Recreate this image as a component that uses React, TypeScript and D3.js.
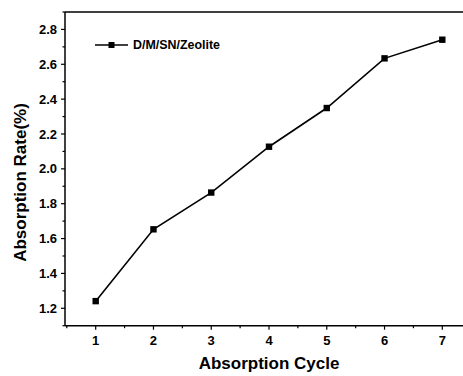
import React from "react";
import * as d3 from "d3";

const cycles = [1, 2, 3, 4, 5, 6, 7];
const rates = [1.241, 1.653, 1.864, 2.127, 2.349, 2.634, 2.741];
const yTicks = [1.2, 1.4, 1.6, 1.8, 2.0, 2.2, 2.4, 2.6, 2.8];
const seriesName = "D/M/SN/Zeolite";

const W = 463, H = 376;
const left = 65, top = 12, bottom = 325.7;

export default function App() {
  const x = d3.scaleLinear().domain([1, 7]).range([95.7, 442.3]);
  const y = d3.scaleLinear().domain([1.1, 2.9]).range([bottom, top]);
  const right = x(7.5);
  const line = d3.line<number>().x((_, i) => x(cycles[i])).y((d) => y(d));
  const xMinor = d3.range(0.5, 7.51, 0.5);
  const yMinor = d3.range(1.1, 2.91, 0.1);
  const font = "'Liberation Sans', Arial, sans-serif";
  return (
    <svg width={W} height={H} style={{ position: "absolute", left: 0, top: 0 }} fontFamily={font}>
      <rect width={W} height={H} fill="#fff" />
      {/* frame */}
      <line x1={left} x2={right} y1={top} y2={top} stroke="#000" strokeWidth={1.5} />
      <line x1={left} x2={left} y1={top} y2={bottom} stroke="#000" strokeWidth={1.5} />
      <line x1={left} x2={right} y1={bottom} y2={bottom} stroke="#000" strokeWidth={1.5} />
      {/* x ticks */}
      {xMinor.map((v) => (
        <line key={"xm" + v} x1={x(v)} x2={x(v)} y1={bottom} y2={bottom + (Number.isInteger(v) ? 4 : 2.5)} stroke="#000" strokeWidth={1.2} />
      ))}
      {cycles.map((c) => (
        <text key={"xl" + c} x={x(c)} y={bottom + 19} textAnchor="middle" fontSize={13} fontWeight="bold">{c}</text>
      ))}
      {/* y ticks */}
      {yMinor.map((v) => {
        const major = Math.abs(Math.round(v * 5) - v * 5) < 1e-6;
        return <line key={"ym" + v} x1={left} x2={left - (major ? 4 : 2.5)} y1={y(v)} y2={y(v)} stroke="#000" strokeWidth={1.2} />;
      })}
      {yTicks.map((v) => (
        <text key={"yl" + v} x={left - 8} y={y(v)} dy="0.35em" textAnchor="end" fontSize={13} fontWeight="bold">{v.toFixed(1)}</text>
      ))}
      {/* titles */}
      <text x={269} y={369} textAnchor="middle" fontSize={17} fontWeight="bold">Absorption Cycle</text>
      <text transform={`translate(26,${182.5}) rotate(-90)`} textAnchor="middle" fontSize={17} fontWeight="bold">Absorption Rate(%)</text>
      {/* series */}
      <path d={line(rates) || ""} fill="none" stroke="#000" strokeWidth={1.6} />
      {rates.map((r, i) => (
        <rect key={"p" + i} x={x(cycles[i]) - 3.2} y={y(r) - 3.2} width={6.4} height={6.4} fill="#000" />
      ))}
      {/* legend */}
      <line x1={95} x2={128} y1={45} y2={45} stroke="#000" strokeWidth={1.6} />
      <rect x={108.5} y={42} width={6} height={6} fill="#000" />
      <text x={133} y={45} dy="0.35em" fontSize={12} fontWeight="bold" textLength={87} lengthAdjust="spacingAndGlyphs">{seriesName}</text>
    </svg>
  );
}
